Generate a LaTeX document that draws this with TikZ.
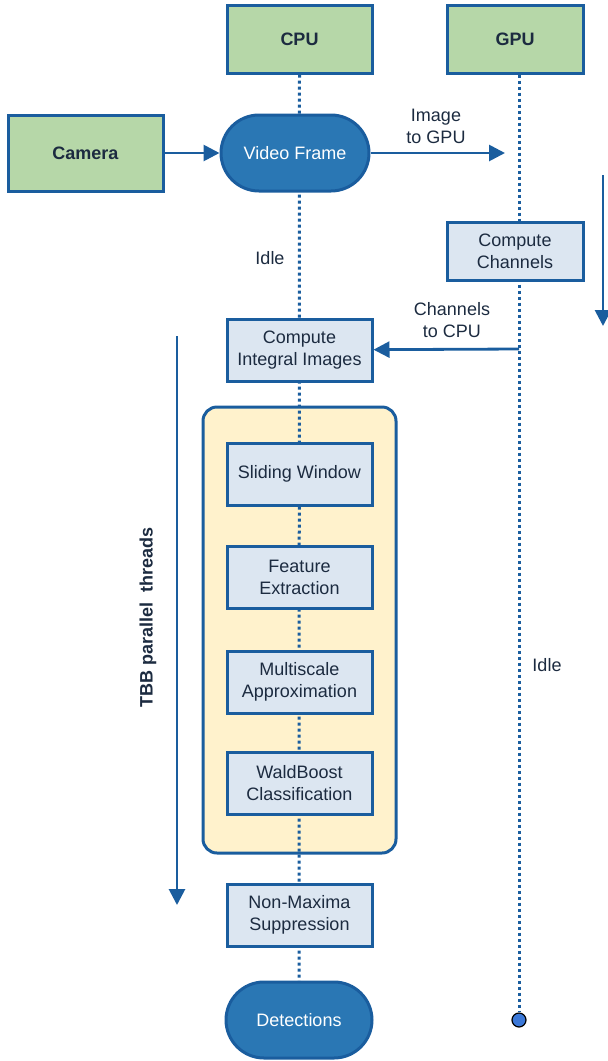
\documentclass[tikz,border=0pt]{standalone}
\usepackage{fontspec}
\setmainfont{Liberation Sans}
\usetikzlibrary{arrows.meta}
\definecolor{edge}{HTML}{1A5D9E}
\definecolor{gfill}{HTML}{B6D7A8}
\definecolor{boxfill}{HTML}{DCE6F1}
\definecolor{pillc}{HTML}{2A77B4}
\definecolor{yel}{HTML}{FFF2CC}
\definecolor{txt}{HTML}{1C2B40}
\definecolor{dotblue}{HTML}{3B78D8}
\pgfdeclarelayer{back}
\pgfdeclarelayer{mid}
\pgfsetlayers{back,mid,main}
\begin{document}
\begin{tikzpicture}[x=1pt,y=-1pt, font=\fontsize{18}{22}\selectfont, text=txt,
 hw/.style={draw=edge, line width=3pt, fill=gfill, font=\fontsize{18}{22}\selectfont\bfseries, minimum width=145pt, minimum height=68pt},
 proc/.style={draw=edge, line width=3pt, fill=boxfill, minimum width=145pt, minimum height=62pt, align=center, inner sep=2pt},
 term/.style={draw=edge, line width=3pt, fill=pillc, text=white, minimum width=148pt, minimum height=76pt, rounded corners=38pt},
 life/.style={draw=edge, line width=3pt, dash pattern=on 3pt off 3pt},
 flow/.style={draw=edge, line width=2.8pt, -{Triangle[length=16pt,width=16pt]}},
 lbl/.style={align=center, inner sep=0pt}]
\useasboundingbox (0,0) rectangle (608,1061);
\node[hw] (cpu) at (299.5,39) {CPU};
\node[hw, minimum width=136pt] (gpu) at (515,39) {GPU};
\node[hw, minimum width=155pt, minimum height=76pt] (cam) at (85.5,153) {Camera};
\node[term] (vf) at (295,153) {Video Frame};
\node[proc, minimum width=136pt, minimum height=58pt] (cc) at (515,251) {Compute\\Channels};
\node[proc] (cii) at (299.5,350) {Compute\\Integral Images};
\node[proc] (sw) at (299.5,474) {Sliding Window};
\node[proc] (fe) at (299.5,577) {Feature\\Extraction};
\node[proc] (ma) at (299.5,682) {Multiscale\\Approximation};
\node[proc] (wb) at (299.5,783) {WaldBoost\\Classification};
\node[proc] (nms) at (299.5,915) {Non-Maxima\\Suppression};
\node[term, minimum width=146pt] (det) at (299,1020) {Detections};
\node[circle, draw=black, line width=1.2pt, fill=dotblue, minimum size=14pt, inner sep=0pt] (end) at (519,1020) {};
\begin{pgfonlayer}{back}
\node[draw=edge, line width=3pt, fill=yel, rounded corners=14pt, minimum width=193pt, minimum height=446pt] (tbb) at (299.5,630) {};
\end{pgfonlayer}
\begin{pgfonlayer}{mid}
\draw[life] (cpu.south) -- (det.north);
\draw[life] (gpu.south -| end) -- (end.north);
\end{pgfonlayer}
\coordinate (imgend) at (505,153);
\coordinate (chstart) at (519,349);
\coordinate (ra1) at (603,175);
\coordinate (ra2) at (603,326);
\coordinate (tb1) at (177,336);
\coordinate (tb2) at (177,905);
\draw[flow] (cam) -- (vf);
\draw[flow] (vf) -- (imgend);
\draw[flow] (chstart) -- (cii);
\draw[flow] (ra1) -- (ra2);
\draw[flow] (tb1) -- (tb2);
\node[lbl] (limg) at (436,126) {Image\\to GPU};
\node[lbl] (lch) at (452,320) {Channels\\to CPU};
\node[lbl] (idle1) at (270,258) {Idle};
\node[lbl] (idle2) at (547,665) {Idle};
\node[lbl, rotate=90, font=\fontsize{18}{22}\selectfont\bfseries] (ltbb) at (148,617) {TBB parallel\ \ threads};
\end{tikzpicture}
\end{document}
